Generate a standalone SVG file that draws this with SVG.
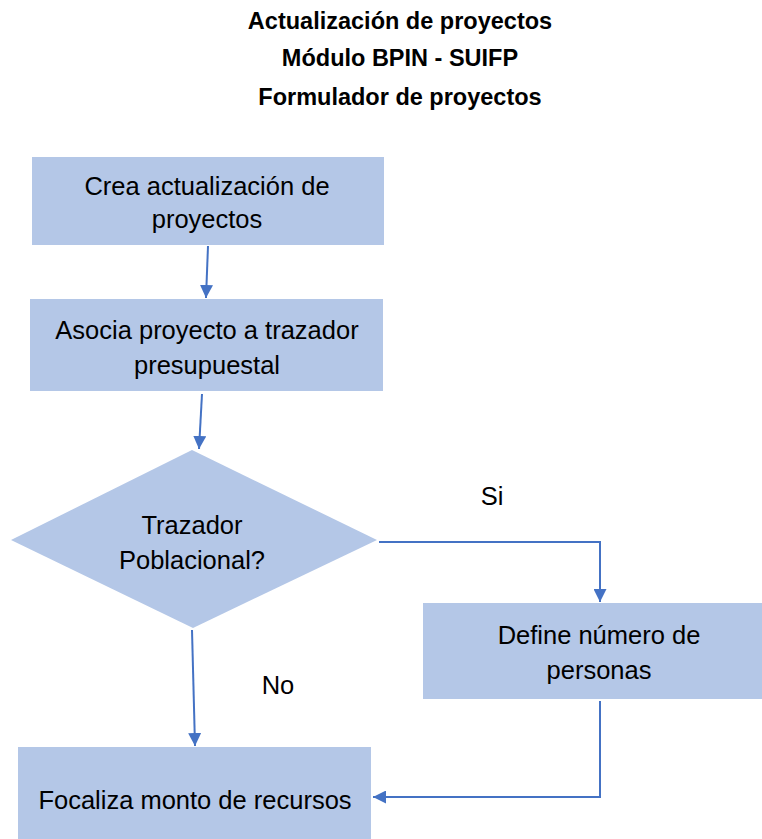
<svg xmlns="http://www.w3.org/2000/svg" width="762" height="839" viewBox="0 0 762 839">
<style>
.box{fill:#B4C7E7;stroke:none}
.t{font-family:"Liberation Sans",Arial,sans-serif;font-size:25.5px;fill:#000;text-anchor:middle}
.title{font-family:"Liberation Sans",Arial,sans-serif;font-size:23.5px;font-weight:bold;fill:#000;text-anchor:middle}
.c{fill:none;stroke:#4472C4;stroke-width:2}
</style>
<defs>
<marker id="ah" viewBox="0 0 10 10" refX="10" refY="5" markerWidth="6.5" markerHeight="6.5" markerUnits="strokeWidth" orient="auto">
<path d="M0,0 L10,5 L0,10 z" fill="#4472C4"/>
</marker>
</defs>
<rect width="762" height="839" fill="#fff"/>
<g id="title">
<text class="title" x="400" y="29">Actualización de proyectos</text>
<text class="title" x="400" y="66">Módulo BPIN - SUIFP</text>
<text class="title" x="400" y="105">Formulador de proyectos</text>
</g>
<g id="n1">
<rect class="box" x="32" y="157" width="352" height="88"/>
<text class="t" x="207" y="195">Crea actualización de</text>
<text class="t" x="207" y="228">proyectos</text>
</g>
<g id="n2">
<rect class="box" x="30" y="299" width="353" height="92"/>
<text class="t" x="207" y="339">Asocia proyecto a trazador</text>
<text class="t" x="207" y="374">presupuestal</text>
</g>
<g id="n3">
<polygon class="box" points="192,450 377,540 193,628 11,540"/>
<text class="t" x="192" y="534">Trazador</text>
<text class="t" x="192" y="569">Poblacional?</text>
</g>
<g id="n4">
<rect class="box" x="423" y="603" width="339" height="96"/>
<text class="t" x="599" y="644">Define número de</text>
<text class="t" x="599" y="679">personas</text>
</g>
<g id="n5">
<rect class="box" x="18" y="747" width="353" height="92"/>
<text class="t" x="195" y="809">Focaliza monto de recursos</text>
</g>
<g id="connectors">
<line class="c" x1="208" y1="246" x2="206" y2="298" marker-end="url(#ah)"/>
<line class="c" x1="202" y1="394" x2="199" y2="449" marker-end="url(#ah)"/>
<polyline class="c" points="379,542 600,542 600,602" marker-end="url(#ah)"/>
<line class="c" x1="192" y1="630" x2="195" y2="746" marker-end="url(#ah)"/>
<polyline class="c" points="600,701 600,797 373,797" marker-end="url(#ah)"/>
</g>
<g id="labels">
<text class="t" x="492" y="505">Si</text>
<text class="t" x="278" y="694">No</text>
</g>
</svg>
